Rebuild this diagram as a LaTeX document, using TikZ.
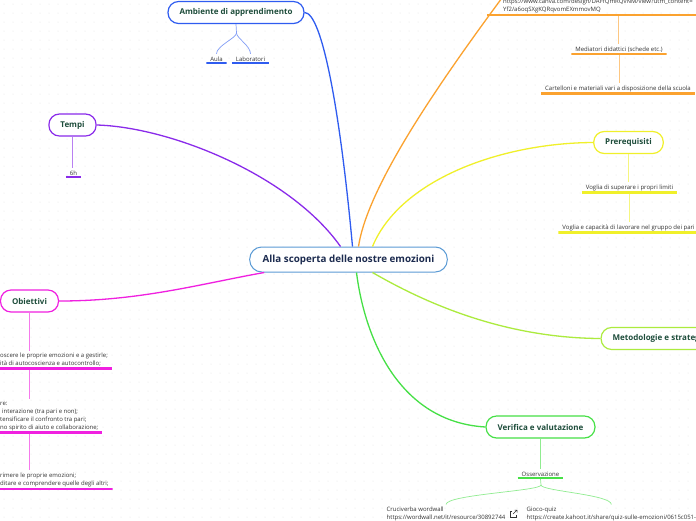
\documentclass[tikz,border=0pt]{standalone}
\usepackage{fontspec}
\setmainfont{Open Sans}
\usetikzlibrary{positioning}
\definecolor{RootBlue}{HTML}{5B9BD5}
\definecolor{RootText}{HTML}{1C2B4F}
\definecolor{TitleGreen}{HTML}{1E4D3B}
\definecolor{LeafText}{HTML}{333333}
\definecolor{EnvBlue}{HTML}{2F5CF0}
\definecolor{TimePurple}{HTML}{8A2BEA}
\definecolor{ToolOrange}{HTML}{FBA22F}
\definecolor{PreYellow}{HTML}{F0F02A}
\definecolor{MetLime}{HTML}{ACEB3E}
\definecolor{VerGreen}{HTML}{46E046}
\definecolor{ObjMagenta}{HTML}{F020E0}

\begin{document}
\begin{tikzpicture}[
    x=1pt, y=-1pt,
    root/.style={rectangle, rounded corners=12pt, draw=RootBlue, line width=1pt, fill=white, minimum height=25pt, inner xsep=13pt, font=\fontsize{9.8}{11}\selectfont\bfseries, text=RootText},
    branch/.style={rectangle, rounded corners=10.5pt, draw=#1, line width=1.2pt, fill=white, minimum height=22pt, inner xsep=11.5pt, font=\fontsize{8}{9}\selectfont\bfseries, text=TitleGreen},
    leaf/.style={rectangle, inner xsep=4pt, inner ysep=2.6pt, align=left, font=\fontsize{6}{8}\selectfont, text=LeafText, path picture={\draw[#1, line width=4pt] (path picture bounding box.south west) -- (path picture bounding box.south east);}},
    link/.style={line width=1.3pt, color=#1},
    twig/.style={line width=0.7pt, color=#1!60}
  ]
    \useasboundingbox (0,0) rectangle (696,520);
    \clip (0,0) rectangle (696,520);
    \fill[white] (0,0) rectangle (696,520);
    \foreach \x in {4,13,...,696}
      \foreach \y in {4,13,...,520}
        \fill[gray!22] (\x,\y) circle (0.5);

    % centre
    \node[root] (root) at (348.5,259.5) {Alla scoperta delle nostre emozioni};

    % ambiente
    \node[branch=EnvBlue] (amb) at (236,12.5) {Ambiente di apprendimento};
    \node[leaf=EnvBlue, anchor=south] (aula) at (216.5,64) {Aula};
    \node[leaf=EnvBlue, anchor=south] (lab) at (250.5,64) {Laboratori};
    \coordinate (ambfork) at (236.5,33);

    % tempi
    \node[branch=TimePurple] (tempi) at (72.5,125) {Tempi};
    \node[leaf=TimePurple, anchor=south] (sixh) at (73.5,178) {6h};

    % materiali (branch above the page)
    \coordinate (mat) at (545,-60);
    \node[leaf=ToolOrange, anchor=south west, inner xsep=16pt, text width=230pt] (canva) at (487,16) {https://www.canva.com/design/DAFfQmRQvNM/view?utm\_content=\\Yf2/a6oqSXgKQRqvomEXmmovMQ};
    \node[leaf=ToolOrange, anchor=south] (medi) at (619,55) {Mediatori didattici (schede etc.)};
    \node[leaf=ToolOrange, anchor=south] (cart) at (618,94.5) {Cartelloni e materiali vari a disposizione della scuola};

    % prerequisiti
    \node[branch=PreYellow] (prereq) at (628.5,142.5) {Prerequisiti};
    \node[leaf=PreYellow, anchor=south] (voglia) at (629.5,193.5) {Voglia di superare i propri limiti};
    \node[leaf=PreYellow, anchor=south] (gruppo) at (628.5,233.5) {Voglia e capacità di lavorare nel gruppo dei pari};

    % metodologie
    \node[branch=MetLime, anchor=west] (metod) at (600.5,338.5) {Metodologie e strategie};

    % verifica
    \node[branch=VerGreen] (verif) at (540.5,427) {Verifica e valutazione};
    \node[leaf=VerGreen, anchor=south] (oss) at (540.5,479) {Osservazione};
    \coordinate (ossfork) at (541,485);
    \node[leaf=VerGreen, anchor=north west] (crux) at (382.5,504.5) {Cruciverba wordwall\\https://wordwall.net/it/resource/30892744};
    \node[leaf=VerGreen, anchor=north west] (gioco) at (522.5,504.5) {Gioco-quiz\\https://create.kahoot.it/share/quiz-sulle-emozioni/0615c051-};

    % obiettivi
    \node[branch=ObjMagenta] (obiet) at (29.5,301) {Obiettivi};
    \node[leaf=ObjMagenta, anchor=south west] (ob1) at (-4,369.5) {oscere le proprie emozioni e a gestirle;\\ità di autocoscienza e autocontrollo;};
    \node[leaf=ObjMagenta, anchor=south west] (ob2) at (-4,433.5) {re:\\\hspace*{2pt}interazione (tra pari e non);\\tensificare il confronto tra pari;\\no spirito di aiuto e collaborazione;};
    \node[leaf=ObjMagenta, anchor=south west] (ob3) at (-4,490) {rimere le proprie emozioni;\\ditare e comprendere quelle degli altri;};

    % main links
    \draw[link=EnvBlue] ([xshift=4pt]root.north) .. controls (340,110) and (322,12.5) .. (amb.east);
    \draw[link=TimePurple] ([xshift=-8pt]root.north) .. controls (290,175) and (170,127) .. (tempi.east);
    \draw[link=ToolOrange] ([xshift=10pt]root.north) .. controls (370,170) and (482,25) .. (mat);
    \draw[link=PreYellow] ([xshift=24pt]root.north) .. controls (400,180) and (500,143) .. (prereq.west);
    \draw[link=MetLime] ([xshift=24pt]root.south) .. controls (420,300) and (500,338) .. (metod.west);
    \draw[link=VerGreen] ([xshift=8pt]root.south) .. controls (365,340) and (400,422) .. (verif.west);
    \draw[link=ObjMagenta] ([xshift=15pt]root.south west) .. controls (200,284) and (140,301) .. (obiet.east);

    % twigs
    \draw[twig=EnvBlue] (amb.south) -- (ambfork) .. controls +(0,5) and +(0,-8) .. (aula.north);
    \draw[twig=EnvBlue] (ambfork) .. controls +(0,5) and +(0,-8) .. (lab.north);
    \draw[twig=TimePurple] (tempi.south) -- (tempi.south |- sixh.north);
    \draw[twig=ToolOrange] (canva.south) -- (canva.south |- medi.north);
    \draw[twig=ToolOrange] (medi.south) -- (medi.south |- cart.north);
    \draw[twig=PreYellow] (prereq.south) -- (prereq.south |- voglia.north);
    \draw[twig=PreYellow] (voglia.south) -- (voglia.south |- gruppo.north);
    \draw[twig=VerGreen] (verif.south) -- (verif.south |- oss.north);
    \draw[twig=VerGreen] (oss.south) -- (ossfork) .. controls +(0,6) and +(0,-10) .. (crux.north);
    \draw[twig=VerGreen] (ossfork) .. controls +(0,6) and +(0,-10) .. (gioco.north);
    \draw[twig=ObjMagenta] (obiet.south) -- (obiet.south |- ob1.north);
    \draw[twig=ObjMagenta] (obiet.south |- ob1.south) -- (obiet.south |- ob2.north);
    \draw[twig=ObjMagenta] (obiet.south |- ob2.south) -- (obiet.south |- ob3.north);

    % link icon
    \draw[LeafText, line width=0.5pt] (512,511) -- (510,511) -- (510,517) -- (516,517) -- (516,515);
    \draw[LeafText, line width=0.5pt] (513,514) -- (517,510) (514.5,510) -- (517,510) -- (517,512.5);
  \end{tikzpicture}
\end{document}
